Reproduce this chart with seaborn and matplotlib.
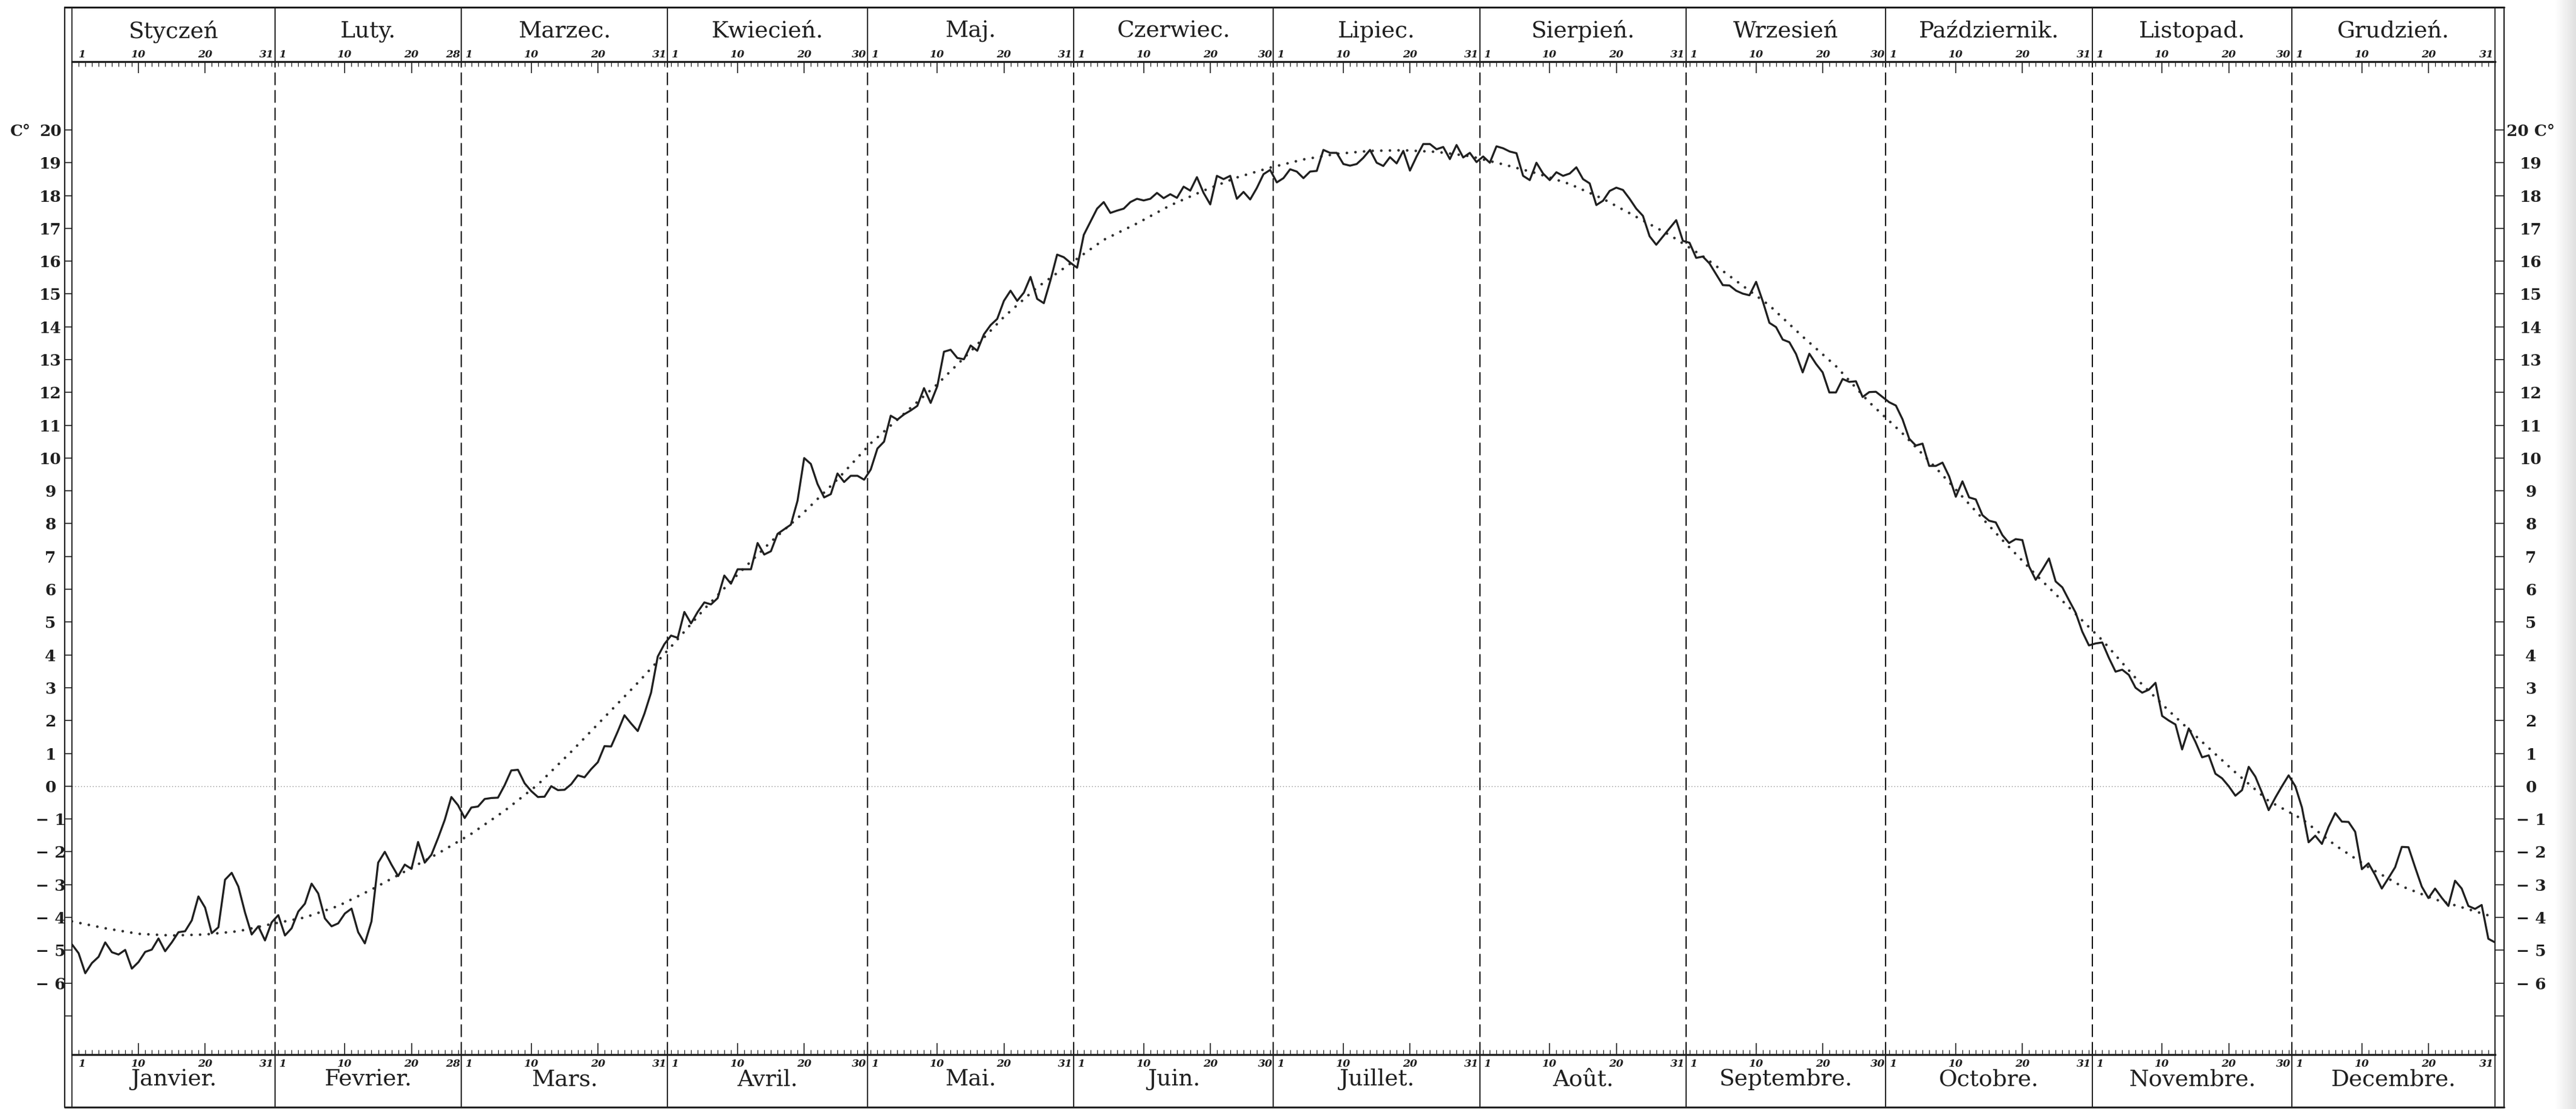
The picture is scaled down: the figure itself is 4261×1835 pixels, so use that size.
import numpy as np
import pandas as pd
import matplotlib
matplotlib.use("Agg")
import matplotlib.pyplot as plt
import matplotlib.transforms as mtransforms
from matplotlib.lines import Line2D
import seaborn as sns

# ---------------- data ----------------
month_days = [31, 28, 31, 30, 31, 30, 31, 31, 30, 31, 30, 31]
months_pl = ["Styczeń", "Luty.", "Marzec.", "Kwiecień.", "Maj.", "Czerwiec.",
             "Lipiec.", "Sierpień.", "Wrzesień", "Październik.", "Listopad.", "Grudzień."]
months_fr = ["Janvier.", "Fevrier.", "Mars.", "Avril.", "Mai.", "Juin.",
             "Juillet.", "Août.", "Septembre.", "Octobre.", "Novembre.", "Decembre."]

t_jan = [-4.82, -5.09, -5.70, -5.39, -5.20, -4.76, -5.06, -5.13, -4.99, -5.56, -5.36,
         -5.05, -4.98, -4.64, -5.03, -4.76, -4.45, -4.42, -4.09, -3.36, -3.70, -4.48,
         -4.30, -2.85, -2.64, -3.06, -3.85, -4.52, -4.27, -4.70, -4.15]
t_feb = [-3.93, -4.55, -4.33, -3.82, -3.58, -2.97, -3.27, -4.03, -4.27, -4.18, -3.88,
         -3.73, -4.45, -4.79, -4.12, -2.33, -2.00, -2.39, -2.74, -2.39, -2.52, -1.70,
         -2.33, -2.09, -1.58, -1.03, -0.33, -0.58]
t_mar = [-0.97, -0.65, -0.62, -0.39, -0.36, -0.35, 0.03, 0.48, 0.50, 0.09, -0.15,
         -0.33, -0.32, 0.00, -0.12, -0.11, 0.06, 0.33, 0.27, 0.52, 0.73, 1.22, 1.21,
         1.67, 2.16, 1.91, 1.68, 2.21, 2.85, 3.95, 4.33]
t_apr = [4.59, 4.52, 5.31, 4.96, 5.31, 5.60, 5.54, 5.73, 6.42, 6.17, 6.61, 6.61, 6.61,
         7.41, 7.06, 7.16, 7.69, 7.83, 7.97, 8.70, 10.00, 9.82, 9.21, 8.80, 8.90, 9.53,
         9.27, 9.46, 9.46, 9.34]
t_may = [9.65, 10.29, 10.50, 11.29, 11.17, 11.33, 11.45, 11.59, 12.13, 11.68, 12.19,
         13.24, 13.30, 13.05, 13.01, 13.43, 13.27, 13.77, 14.05, 14.24, 14.79, 15.10,
         14.79, 15.04, 15.52, 14.85, 14.72, 15.42, 16.20, 16.12, 15.95]
t_jun = [15.80, 16.80, 17.20, 17.60, 17.80, 17.47, 17.54, 17.60, 17.80, 17.90, 17.85,
         17.90, 18.08, 17.92, 18.04, 17.93, 18.27, 18.15, 18.56, 18.08, 17.73, 18.60,
         18.50, 18.60, 17.90, 18.11, 17.88, 18.23, 18.65, 18.78]
t_jul = [18.40, 18.53, 18.80, 18.73, 18.53, 18.73, 18.75, 19.39, 19.30, 19.30, 18.96,
         18.91, 18.96, 19.15, 19.39, 19.00, 18.90, 19.17, 18.98, 19.36, 18.76, 19.19,
         19.57, 19.57, 19.41, 19.48, 19.11, 19.54, 19.16, 19.30, 19.02]
t_aug = [19.19, 19.00, 19.50, 19.44, 19.34, 19.29, 18.60, 18.47, 19.00, 18.67, 18.47,
         18.71, 18.60, 18.67, 18.86, 18.50, 18.37, 17.71, 17.84, 18.14, 18.24, 18.17,
         17.90, 17.60, 17.38, 16.76, 16.50, 16.75, 17.00, 17.25, 16.62]
t_sep = [16.56, 16.10, 16.14, 15.93, 15.60, 15.27, 15.26, 15.10, 15.01, 14.96, 15.37,
         14.78, 14.12, 13.99, 13.61, 13.53, 13.17, 12.61, 13.18, 12.87, 12.61, 12.00,
         12.00, 12.41, 12.32, 12.34, 11.86, 12.01, 12.02, 11.86]
t_oct = [11.70, 11.60, 11.18, 10.59, 10.38, 10.44, 9.76, 9.76, 9.86, 9.44, 8.82, 9.29,
         8.80, 8.74, 8.26, 8.09, 8.04, 7.65, 7.41, 7.53, 7.50, 6.70, 6.29, 6.60, 6.94,
         6.24, 6.06, 5.67, 5.29, 4.71, 4.29]
t_nov = [4.35, 4.38, 3.91, 3.49, 3.55, 3.39, 3.00, 2.85, 2.94, 3.15, 2.14, 2.00, 1.88,
         1.12, 1.76, 1.35, 0.88, 0.94, 0.38, 0.24, 0.00, -0.29, -0.12, 0.59, 0.29,
         -0.20, -0.73, -0.35, 0.00, 0.33]
t_dec = [0.00, -0.65, -1.71, -1.51, -1.76, -1.24, -0.82, -1.08, -1.09, -1.39, -2.53,
         -2.35, -2.71, -3.12, -2.80, -2.47, -1.85, -1.86, -2.47, -3.06, -3.41, -3.12,
         -3.40, -3.65, -2.88, -3.12, -3.65, -3.74, -3.62, -4.65, -4.76]

# dotted smoothed annual curve (read every 5 days)
smooth_day = list(range(0, 361, 5)) + [364]
smooth_temp = [-4.12, -4.33, -4.50, -4.55, -4.52, -4.42, -4.20, -4.00, -3.65, -3.15,
               -2.60, -2.05, -1.45, -0.75, 0.05, 1.05, 2.10, 3.15, 4.25, 5.40,
               6.45, 7.45, 8.35, 9.35, 10.45, 11.35, 12.25, 13.25, 14.30, 15.20,
               15.93, 16.65, 17.15, 17.70, 18.15, 18.55, 18.85, 19.10, 19.27, 19.36,
               19.38, 19.33, 19.20, 18.95, 18.68, 18.35, 17.90, 17.35, 16.80, 16.15,
               15.40, 14.65, 13.70, 12.80, 11.70, 10.75, 9.70, 8.60, 7.50, 6.45,
               5.45, 4.45, 3.30, 2.30, 1.35, 0.42, -0.45, -1.00, -1.80, -2.47,
               -3.05, -3.45, -3.75, -4.00]

temp_ticks = list(range(-7, 21))
day_marks = [10, 20]

# ---------------- figure ----------------
sns.set_style("white")
plt.rcParams["font.family"] = ["DejaVu Serif", "DejaVu Sans"]
INK = "#1f1f1f"

W, H = 4261, 1835
fig = plt.figure(figsize=(W / 100, H / 100), dpi=100)
fig.patch.set_facecolor("white")

# scanned-paper shading at right margin (kept behind everything)
gax = fig.add_axes([4226 / W, 0, (W - 4226) / W, 1])
grad = np.linspace(1.0, 0.88, 64)[None, :]
gax.imshow(grad, aspect="auto", cmap="gray", vmin=0, vmax=1, extent=[0, 1, 0, 1])
gax.set_axis_off()
gax.set_zorder(-10)

L, R, TOP, BOT = 119, 4127, 102, 1745
ax = fig.add_axes([L / W, 1 - BOT / H, (R - L) / W, (BOT - TOP) / H])
ax2 = ax.twinx()

temps = np.concatenate([t_jan, t_feb, t_mar, t_apr, t_may, t_jun,
                        t_jul, t_aug, t_sep, t_oct, t_nov, t_dec])
df = pd.DataFrame({"day": np.arange(len(temps)), "temp": temps})
sm = pd.DataFrame({"day": smooth_day, "temp": smooth_temp})

month_start = np.concatenate([[0], np.cumsum(month_days)[:-1]])
edges = [0.0] + [s - 0.5 for s in month_start[1:]] + [364.0]

ax.axhline(0, color="#8c8c8c", lw=1.0, ls=(0, (1, 2.5)), zorder=1)
for b in edges[1:-1]:
    ax.axvline(b, color="#111111", lw=1.5, ls=(0, (10, 4)), zorder=1)

sns.lineplot(data=sm, x="day", y="temp", ax=ax, color="#303030", linewidth=3.2,
             estimator=None, sort=False, zorder=2)
ax.lines[-1].set_dashes([0.01, 3.2])
ax.lines[-1].set_dash_capstyle("round")
sns.lineplot(data=df, x="day", y="temp", ax=ax, color=INK, linewidth=2.4,
             estimator=None, sort=False, zorder=3)

ax.set_xlim(0, 364)
ax.set_ylim(-8.18, 22.08)
ax2.set_ylim(-8.18, 22.08)
ax.set_xlabel("")
ax.set_ylabel("")

for side in ["top", "bottom"]:
    ax.spines[side].set_linewidth(2.4)
    ax.spines[side].set_color(INK)
for side in ["left", "right"]:
    ax.spines[side].set_linewidth(1.3)
    ax.spines[side].set_color(INK)
for sp in ax2.spines.values():
    sp.set_visible(False)

# x ticks: every day, long at 10 and 20
major = [s + d for s in month_start for d in day_marks]
ax.set_xticks(major)
ax.set_xticks(np.arange(0, 365), minor=True)
ax.tick_params(axis="x", which="both", direction="in", top=True, bottom=True,
               labelbottom=False, labeltop=False, color=INK)
ax.tick_params(axis="x", which="minor", length=5.5, width=0.9)
ax.tick_params(axis="x", which="major", length=14, width=1.2)


def lab(t):
    if t == -7:
        return ""
    if t < 0:
        return "\u2212 " + str(-t)
    return str(t)


left_labels = [lab(t) for t in temp_ticks]
right_labels = [("20 C°" if t == 20 else lab(t)) for t in temp_ticks]

ax.set_yticks(temp_ticks)
ax.set_yticklabels(left_labels)
ax.tick_params(axis="y", which="major", direction="out", left=True, right=False,
               labelleft=True, length=8.6, width=1.2, pad=17, labelsize=19,
               color=INK, labelcolor=INK)
plt.setp(ax.get_yticklabels(), ha="center", fontweight="bold")

ax2.set_yticks(temp_ticks)
ax2.set_yticklabels(right_labels)
ax2.tick_params(axis="y", which="major", direction="out", right=True, left=False,
                labelright=True, length=10.8, width=1.2, pad=32, labelsize=19,
                color=INK, labelcolor=INK)
plt.setp(ax2.get_yticklabels(), ha="center", fontweight="bold")

tr_fig_y = mtransforms.blended_transform_factory(fig.transFigure, ax.transData)
ax.text(34 / W, 20, "C°", transform=tr_fig_y, ha="center", va="center_baseline",
        fontsize=19, fontweight="bold", color=INK)

# header / footer
trx = mtransforms.blended_transform_factory(ax.transData, fig.transFigure)
for b in edges[1:-1]:
    ax.add_line(Line2D([b, b], [1 - 12 / H, 1 - TOP / H], transform=trx,
                       clip_on=False, color=INK, lw=1.4))
    ax.add_line(Line2D([b, b], [1 - BOT / H, 1 - 1833 / H], transform=trx,
                       clip_on=False, color=INK, lw=1.4))

for i in range(12):
    mid = (edges[i] + edges[i + 1]) / 2
    ax.text(mid, 1 - 52 / H, months_pl[i], transform=trx, ha="center", va="center",
            fontsize=27, color=INK, clip_on=False)
    ax.text(mid, 1 - 1786 / H, months_fr[i], transform=trx, ha="center", va="center",
            fontsize=27, color=INK, clip_on=False)
    s = month_start[i]
    first = edges[i] + (1.0 if i == 0 else 0.6)
    last = edges[i + 1] - 0.15
    for yy in (1 - 90 / H, 1 - 1760 / H):
        ax.text(first, yy, "1", transform=trx, ha="left", va="center", fontsize=12.5,
                style="italic", fontweight="bold", color=INK, clip_on=False)
        for d in day_marks:
            ax.text(s + d, yy, str(d), transform=trx, ha="center", va="center",
                    fontsize=12.5, style="italic", fontweight="bold", color=INK,
                    clip_on=False)
        ax.text(last, yy, str(month_days[i]), transform=trx, ha="right", va="center",
                fontsize=12.5, style="italic", fontweight="bold", color=INK,
                clip_on=False)

# outer frame (decorative)
def fline(x0, y0, x1, y1, lw):
    fig.add_artist(Line2D([x0 / W, x1 / W], [1 - y0 / H, 1 - y1 / H],
                          transform=fig.transFigure, color=INK, lw=lw))

fline(107, 12, 4142, 12, 2.2)
fline(107, 1832, 4142, 1832, 2.2)
fline(107, 12, 107, 1832, 1.6)
fline(119, 12, 119, 1832, 1.3)
fline(4127, 12, 4127, 1832, 1.3)
fline(4142, 12, 4142, 1832, 1.6)

fig.savefig("out.png", dpi=100, facecolor="white")
